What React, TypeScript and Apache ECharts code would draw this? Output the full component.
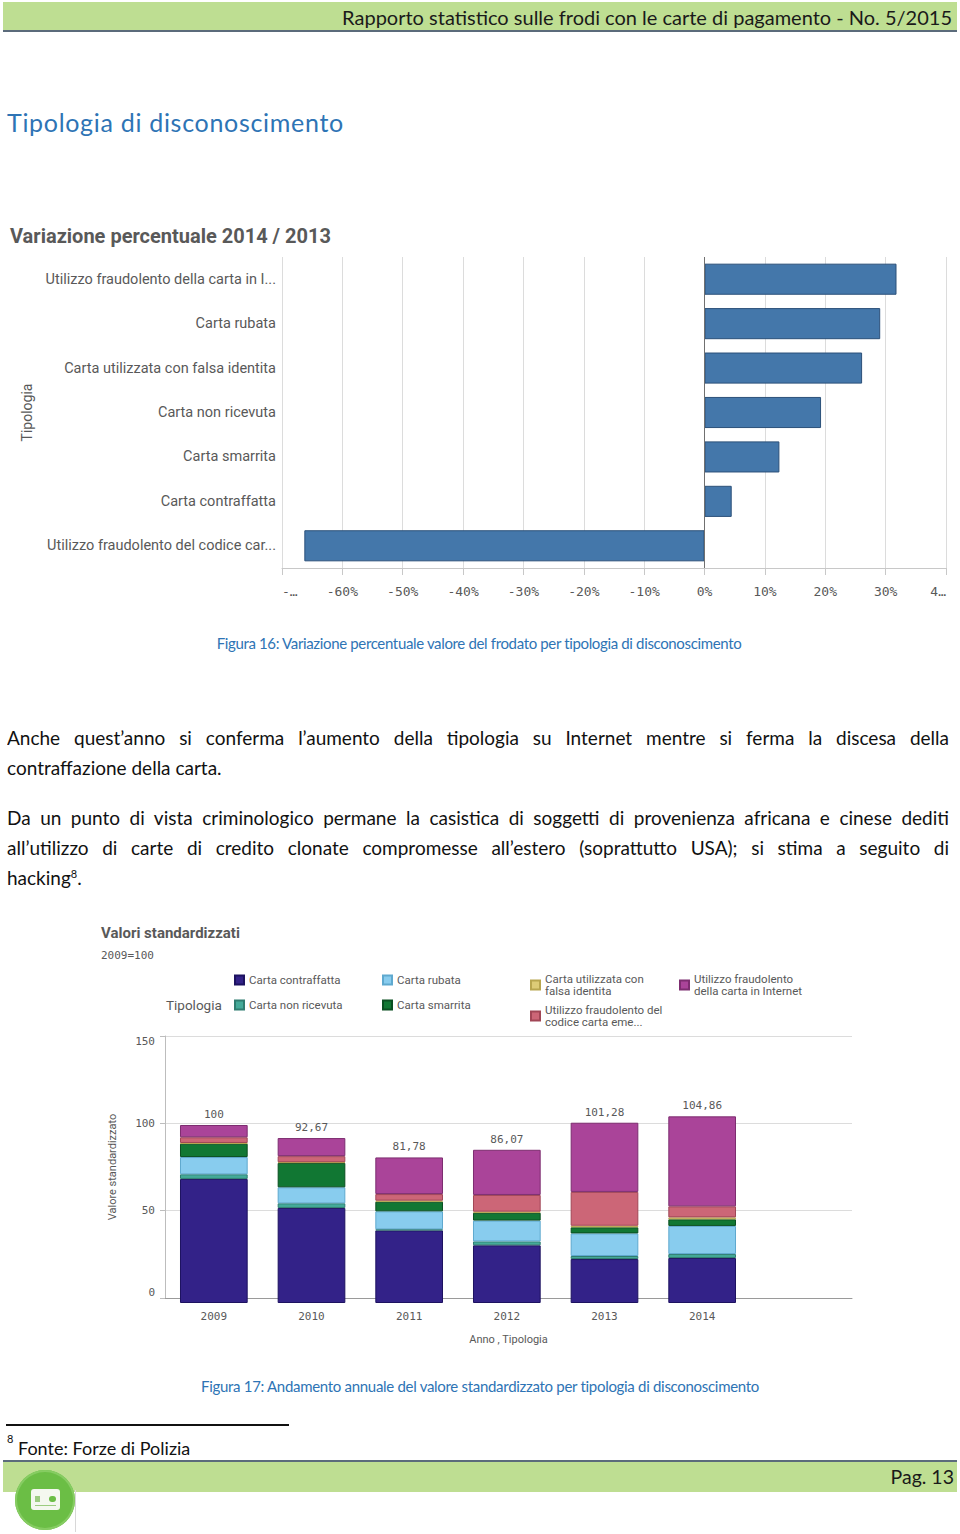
import React, { useEffect, useRef } from "react";
import * as echarts from "echarts";

// ---------- Data: Figura 16 ----------
const variationCategories = [
  "Utilizzo fraudolento della carta in I...",
  "Carta rubata",
  "Carta utilizzata con falsa identita",
  "Carta non ricevuta",
  "Carta smarrita",
  "Carta contraffatta",
  "Utilizzo fraudolento del codice car...",
];
const variationValues = [31.8, 29.1, 26.1, 19.3, 12.4, 4.5, -66.3];
const variationMin = -70;
const variationMax = 40;
const variationStep = 10;

// ---------- Data: Figura 17 ----------
const years = ["2009", "2010", "2011", "2012", "2013", "2014"];
const typeNames = [
  "Carta contraffatta",
  "Carta non ricevuta",
  "Carta rubata",
  "Carta smarrita",
  "Carta utilizzata con falsa identita",
  "Utilizzo fraudolento del codice carta eme...",
  "Utilizzo fraudolento della carta in Internet",
];
const legendLabels = [
  "Carta contraffatta",
  "Carta non ricevuta",
  "Carta rubata",
  "Carta smarrita",
  "Carta utilizzata con\nfalsa identita",
  "Utilizzo fraudolento del\ncodice carta eme...",
  "Utilizzo fraudolento\ndella carta in Internet",
];
const contraffatta = [69.7, 53.4, 40.8, 32.4, 24.7, 25.3];
const nonRicevuta = [2.6, 2.6, 0.6, 2.2, 1.7, 2.2];
const rubata = [9.7, 9.0, 10.1, 11.7, 12.7, 15.8];
const smarrita = [7.5, 13.7, 5.4, 4.4, 3.4, 3.7];
const falsaIdentita = [0.4, 0.4, 0.6, 0.6, 0.9, 1.1];
const codice = [3.2, 3.4, 3.7, 9.4, 19.0, 6.2];
const internet = [6.9, 10.17, 20.58, 25.37, 38.88, 50.56];
const totals = [100, 92.67, 81.78, 86.07, 101.28, 104.86];
const stdTicks = { min: 0, max: 150, interval: 50 };

const seriesValues = [contraffatta, nonRicevuta, rubata, smarrita, falsaIdentita, codice, internet];
const typeColors = ["#332288", "#44AA99", "#88CCEE", "#117733", "#DDCC77", "#CC6677", "#AA4499"];
const typeBorders = ["#1d1260", "#2f7d70", "#5fa9cf", "#0a4f21", "#b8a64f", "#a14656", "#7d2d70"];

const SANS = "Roboto, 'Noto Sans', sans-serif";
const MONO = "'DejaVu Sans Mono', 'Liberation Mono', monospace";
const DOC = "Lato, 'Open Sans', sans-serif";
const GREY = "#595959";

function ChartVariation() {
  const ref = useRef<HTMLDivElement>(null);
  useEffect(() => {
    if (!ref.current) return;
    const chart = echarts.init(ref.current, undefined, { renderer: "svg" });
    chart.setOption({
      animation: false,
      title: {
        text: "Variazione percentuale 2014 / 2013",
        left: 5,
        top: 11,
        textStyle: { fontFamily: SANS, fontWeight: "bold", fontSize: 20, color: GREY },
      },
      grid: { left: 282, right: 14, top: 47, bottom: 42 },
      xAxis: {
        type: "value",
        min: variationMin,
        max: variationMax,
        interval: variationStep,
        axisLine: { show: true, lineStyle: { color: "#c8c8c8" } },
        axisTick: { show: true, length: 7, lineStyle: { color: "#c8c8c8" } },
        axisLabel: {
          margin: 17,
          fontFamily: MONO,
          fontSize: 13,
          color: GREY,
          alignMinLabel: "left",
          alignMaxLabel: "right",
          formatter: (v: number) =>
            v === variationMin ? "-…" : v === variationMax ? "4…" : `${v}%`,
        },
        splitLine: { show: true, lineStyle: { color: "#dcdcdc" } },
      },
      yAxis: {
        type: "category",
        inverse: true,
        data: variationCategories,
        name: "Tipologia",
        nameLocation: "middle",
        nameGap: 248,
        nameTextStyle: { fontFamily: SANS, fontSize: 14, color: GREY },
        axisLine: { show: false },
        axisTick: { show: false },
        axisLabel: { margin: 6, fontFamily: SANS, fontSize: 14.5, color: GREY },
      },
      series: [
        {
          type: "bar",
          data: variationValues,
          barCategoryGap: "30%",
          itemStyle: { color: "#4477AA", borderColor: "#2b5079", borderWidth: 1 },
          markLine: {
            silent: true,
            symbol: "none",
            label: { show: false },
            lineStyle: { color: "#707070", type: "solid", width: 1 },
            data: [{ xAxis: 0 }],
          },
        },
      ],
    });
    return () => chart.dispose();
  }, []);
  return <div ref={ref} style={{ position: "absolute", left: 0, top: 210, width: 960, height: 400 }} />;
}

function ChartStandard() {
  const ref = useRef<HTMLDivElement>(null);
  useEffect(() => {
    if (!ref.current) return;
    const chart = echarts.init(ref.current, undefined, { renderer: "svg" });
    const legendPos = [
      { left: 234, top: 64 },
      { left: 234, top: 89 },
      { left: 382, top: 64 },
      { left: 382, top: 89 },
      { left: 530, top: 63 },
      { left: 530, top: 94 },
      { left: 679, top: 63 },
    ];
    const legends = typeNames.map((name, i) => ({
      data: [name],
      left: legendPos[i].left,
      top: legendPos[i].top,
      padding: 0,
      icon: "rect",
      itemWidth: 9,
      itemHeight: 9,
      selectedMode: false,
      formatter: () => legendLabels[i],
      textStyle: { fontFamily: SANS, fontSize: 11.5, color: GREY, lineHeight: 12 },
    }));
    chart.setOption({
      animation: false,
      title: [
        {
          text: "Valori standardizzati",
          left: 96,
          top: 10,
          textStyle: { fontFamily: SANS, fontWeight: "bold", fontSize: 15, color: GREY },
        },
        {
          text: "2009=100",
          left: 96,
          top: 35,
          textStyle: { fontFamily: MONO, fontWeight: "normal", fontSize: 11, color: GREY },
        },
        {
          text: "Tipologia",
          left: 161,
          top: 83,
          textStyle: { fontFamily: SANS, fontWeight: "normal", fontSize: 13.5, color: GREY },
        },
      ],
      legend: legends,
      grid: [
        { left: 165, right: 108, top: 126, bottom: 47 },
        { left: 165, right: 209, top: 126, bottom: 47 },
      ],
      xAxis: [
        {
          gridIndex: 0,
          type: "value",
          min: 0,
          max: 1,
          axisLine: { show: true, onZero: false, lineStyle: { color: "#9a9a9a" } },
          axisTick: { show: false },
          axisLabel: { show: false },
          splitLine: { show: false },
          name: "Anno , Tipologia",
          nameLocation: "middle",
          nameGap: 36,
          nameTextStyle: { fontFamily: SANS, fontSize: 11, color: GREY },
        },
        {
          gridIndex: 1,
          type: "category",
          data: years,
          axisLine: { show: false },
          axisTick: { show: false },
          axisLabel: { margin: 8, fontFamily: MONO, fontSize: 11, color: GREY },
        },
      ],
      yAxis: [
        {
          gridIndex: 0,
          type: "value",
          min: stdTicks.min,
          max: stdTicks.max,
          interval: stdTicks.interval,
          axisLine: { show: true, lineStyle: { color: "#bdbdbd" } },
          axisTick: { show: true, length: 5, lineStyle: { color: "#bdbdbd" } },
          axisLabel: {
            margin: 10,
            fontFamily: MONO,
            fontSize: 11,
            color: GREY,
            verticalAlignMinLabel: "bottom",
            verticalAlignMaxLabel: "top",
          },
          splitLine: { show: true, lineStyle: { color: "#dcdcdc" } },
          name: "Valore standardizzato",
          nameLocation: "middle",
          nameGap: 47,
          nameTextStyle: { fontFamily: SANS, fontSize: 11, color: GREY },
        },
        {
          gridIndex: 1,
          type: "value",
          min: stdTicks.min,
          max: stdTicks.max,
          show: false,
        },
      ],
      series: typeNames.map((name, i) => ({
        name,
        type: "bar",
        stack: "tot",
        xAxisIndex: 1,
        yAxisIndex: 1,
        barCategoryGap: "30.7%",
        data: seriesValues[i],
        itemStyle: { color: typeColors[i], borderColor: typeBorders[i], borderWidth: 1 },
        label:
          i === typeNames.length - 1
            ? {
                show: true,
                position: "top",
                distance: 5,
                fontFamily: MONO,
                fontSize: 11,
                color: GREY,
                formatter: (p: any) => String(totals[p.dataIndex]).replace(".", ","),
              }
            : { show: false },
      })),
    });
    return () => chart.dispose();
  }, []);
  return <div ref={ref} style={{ position: "absolute", left: 0, top: 910, width: 960, height: 440 }} />;
}

const abs = (s: React.CSSProperties): React.CSSProperties => ({ position: "absolute", ...s });

function Line({ top, text, justify }: { top: number; text: React.ReactNode; justify: boolean }) {
  return (
    <div
      style={abs({
        left: 7,
        top: top - 15,
        width: 942,
        height: 30,
        lineHeight: "30px",
        fontFamily: DOC,
        fontSize: 19,
        color: "#111",
        textAlign: justify ? "justify" : "left",
        textAlignLast: justify ? "justify" : "left",
        whiteSpace: "normal",
        overflow: "hidden",
      })}
    >
      {text}
    </div>
  );
}

export default function App() {
  return (
    <div style={abs({ left: 0, top: 0, width: 960, height: 1534, background: "#fff", overflow: "hidden" })}>
      {/* header */}
      <div style={abs({ left: 3, top: 2, width: 954, height: 28, background: "#BEDE92", borderBottom: "2px solid #5b6b7b" })} />
      <div
        style={abs({
          right: 8,
          top: 3,
          height: 28,
          lineHeight: "28px",
          fontFamily: DOC,
          fontSize: 20,
          color: "#1a1a1a",
          whiteSpace: "nowrap",
        })}
      >
        Rapporto statistico sulle frodi con le carte di pagamento - No. 5/2015
      </div>

      {/* heading */}
      <div
        style={abs({
          left: 7,
          top: 106,
          height: 32,
          lineHeight: "32px",
          fontFamily: DOC,
          fontSize: 25,
          letterSpacing: 0.7,
          color: "#2E74B5",
          whiteSpace: "nowrap",
        })}
      >
        Tipologia di disconoscimento
      </div>

      <ChartVariation />

      <div
        style={abs({
          left: 0,
          width: 958,
          top: 633,
          height: 20,
          lineHeight: "20px",
          textAlign: "center",
          fontFamily: DOC,
          fontSize: 15,
          letterSpacing: -0.35,
          color: "#2E74B5",
          whiteSpace: "nowrap",
        })}
      >
        Figura 16: Variazione percentuale valore del frodato per tipologia di disconoscimento
      </div>

      <Line top={738} justify text="Anche quest’anno si conferma l’aumento della tipologia su Internet mentre si ferma la discesa della" />
      <Line top={768} justify={false} text="contraffazione della carta." />
      <Line top={818} justify text="Da un punto di vista criminologico permane la casistica di soggetti di provenienza africana e cinese dediti" />
      <Line top={848} justify text="all’utilizzo di carte di credito clonate compromesse all’estero (soprattutto USA); si stima a seguito di" />
      <Line
        top={878}
        justify={false}
        text={
          <span>
            hacking<sup style={{ fontSize: 11, verticalAlign: "top", lineHeight: "22px" }}>8</sup>.
          </span>
        }
      />

      <ChartStandard />

      <div
        style={abs({
          left: 0,
          width: 960,
          top: 1376,
          height: 20,
          lineHeight: "20px",
          textAlign: "center",
          fontFamily: DOC,
          fontSize: 15,
          letterSpacing: -0.3,
          color: "#2E74B5",
          whiteSpace: "nowrap",
        })}
      >
        Figura 17: Andamento annuale del valore standardizzato per tipologia di disconoscimento
      </div>

      {/* footnote */}
      <div style={abs({ left: 6, top: 1424, width: 283, height: 2, background: "#111" })} />
      <div style={abs({ left: 7, top: 1433, fontFamily: DOC, fontSize: 11, color: "#111", lineHeight: "12px" })}>8</div>
      <div
        style={abs({
          left: 18,
          top: 1437,
          height: 22,
          lineHeight: "22px",
          fontFamily: DOC,
          fontSize: 18,
          color: "#111",
          whiteSpace: "nowrap",
        })}
      >
        Fonte: Forze di Polizia
      </div>

      {/* footer */}
      <div style={abs({ left: 3, top: 1460, width: 954, height: 30, background: "#BEDE92", borderTop: "2px solid #5b6b7b" })} />
      <div
        style={abs({
          right: 6,
          top: 1464,
          height: 26,
          lineHeight: "26px",
          fontFamily: DOC,
          fontSize: 19.5,
          color: "#1a1a1a",
          whiteSpace: "nowrap",
        })}
      >
        Pag. 13
      </div>
      <div style={abs({ left: 75, top: 1490, width: 1, height: 42, background: "#d8d8d8" })} />
      <div
        style={abs({
          left: 15,
          top: 1470,
          width: 60,
          height: 60,
          borderRadius: 30,
          background: "#6BBE45",
          boxShadow: "inset 0 0 0 2px #86cc62",
        })}
      />
      <div style={abs({ left: 31, top: 1489, width: 29, height: 21, borderRadius: 3, background: "#f4f8ef" })} />
      <div style={abs({ left: 35, top: 1496, width: 5, height: 6, background: "#9ccc80" })} />
      <div style={abs({ left: 49, top: 1496, width: 7, height: 6, borderRadius: 3, background: "#6BBE45" })} />
      <div style={abs({ left: 35, top: 1505, width: 21, height: 1, background: "#9ccc80" })} />
    </div>
  );
}
